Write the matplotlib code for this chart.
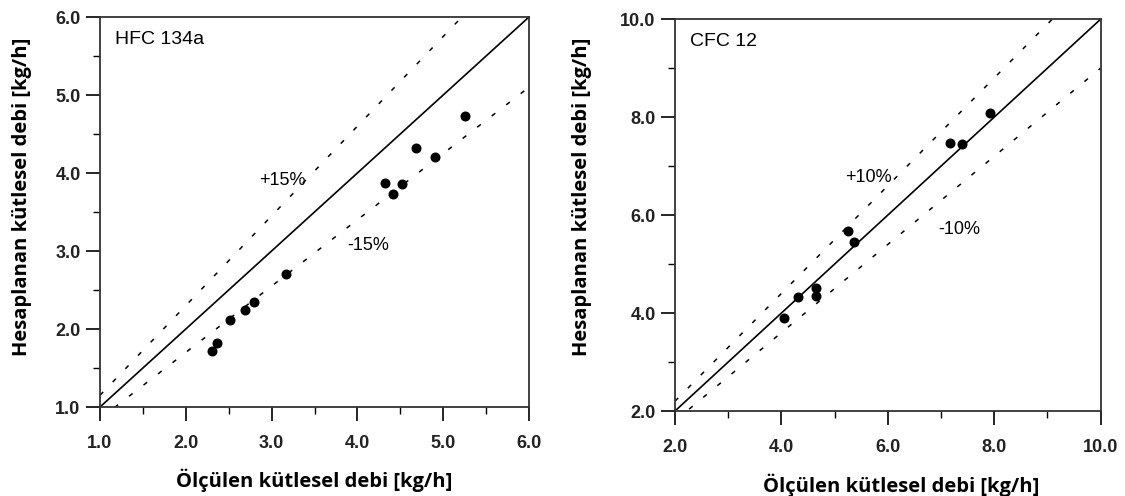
import matplotlib
matplotlib.use('Agg')
import matplotlib.pyplot as plt
from matplotlib.ticker import MultipleLocator, FormatStrFormatter
import numpy as np

# HFC 134a
hfc_olculen = [2.30, 2.36, 2.51, 2.69, 2.79, 3.17, 4.32, 4.41, 4.52, 4.68, 4.90, 5.25]
hfc_hesap = [1.72, 1.82, 2.11, 2.25, 2.34, 2.70, 3.87, 3.73, 3.86, 4.32, 4.21, 4.73]
hfc_lim = (1.0, 6.0)
hfc_band = 0.15

# CFC 12
cfc_olculen = [4.05, 4.32, 4.66, 4.66, 5.25, 5.37, 7.17, 7.40, 7.93]
cfc_hesap = [3.89, 4.33, 4.51, 4.35, 5.68, 5.46, 7.48, 7.45, 8.09]
cfc_lim = (2.0, 10.0)
cfc_band = 0.10

xlabel = 'Ölçülen kütlesel debi [kg/h]'
ylabel = 'Hesaplanan kütlesel debi [kg/h]'

plt.rcParams['font.family'] = ['Liberation Sans', 'DejaVu Sans']

fig = plt.figure(figsize=(11.25, 4.96), dpi=100)
ax1 = fig.add_axes([100/1125, 1-407/496, 429/1125, 390/496])
ax2 = fig.add_axes([675/1125, 1-411/496, 425.5/1125, 391.7/496])


def panel(ax, xs, ys, lim, band, major, minor, name, plus_pos, minus_pos,
          xl_pos, yl_pos):
    x = np.linspace(lim[0], lim[1], 200)
    ax.plot(x, x, color='k', lw=1.2)
    ax.plot(x, (1+band)*x, color='k', lw=1.1, ls=(0, (3, 9)))
    ax.plot(x, (1-band)*x, color='k', lw=1.1, ls=(0, (3, 9)))
    ax.plot(xs, ys, 'o', color='k', ms=6.2)

    ax.set_xlim(lim)
    ax.set_ylim(lim)
    for a in (ax.xaxis, ax.yaxis):
        a.set_major_locator(MultipleLocator(major))
        a.set_minor_locator(MultipleLocator(minor))
        a.set_major_formatter(FormatStrFormatter('%.1f'))
    ax.tick_params(which='major', direction='out', length=10, width=1.2,
                   labelsize=13, top=False, right=False)
    ax.tick_params(axis='x', which='major', pad=10)
    ax.tick_params(axis='y', which='major', pad=4)
    ax.tick_params(which='minor', direction='out', length=5, width=1.0,
                   top=False, right=False)
    for lab in ax.get_xticklabels() + ax.get_yticklabels():
        lab.set_fontweight('bold')
        lab.set_color('#222222')
    for s in ax.spines.values():
        s.set_linewidth(1.3)
        s.set_color('#333333')

    pct = int(round(band*100))
    ax.text(lim[0] + 0.035*(lim[1]-lim[0]), lim[1] - 0.035*(lim[1]-lim[0]), name,
            fontsize=14, va='top', ha='left')
    ax.text(plus_pos[0], plus_pos[1], '+%d%%' % pct, fontsize=13, ha='center', va='center')
    ax.text(minus_pos[0], minus_pos[1], '-%d%%' % pct, fontsize=13, ha='center', va='center')

    ax.set_xlabel(xlabel, family=['Open Sans', 'DejaVu Sans'], fontweight='bold',
                  fontsize=14.5)
    ax.set_ylabel(ylabel, family=['Open Sans', 'DejaVu Sans'], fontweight='bold',
                  fontsize=14.5)
    ax.xaxis.set_label_coords(*xl_pos)
    ax.xaxis.label.set_va('center')
    ax.yaxis.set_label_coords(*yl_pos)
    ax.yaxis.label.set_va('center')


panel(ax1, hfc_olculen, hfc_hesap, hfc_lim, hfc_band, 1.0, 0.5, 'HFC 134a',
      (3.12, 3.90), (4.12, 3.07), (0.5, -0.187), (-0.182, 0.538))
panel(ax2, cfc_olculen, cfc_hesap, cfc_lim, cfc_band, 2.0, 1.0, 'CFC 12',
      (5.63, 6.76), (7.35, 5.70), (0.531, -0.189), (-0.219, 0.546))

fig.savefig('out.png', dpi=100)
